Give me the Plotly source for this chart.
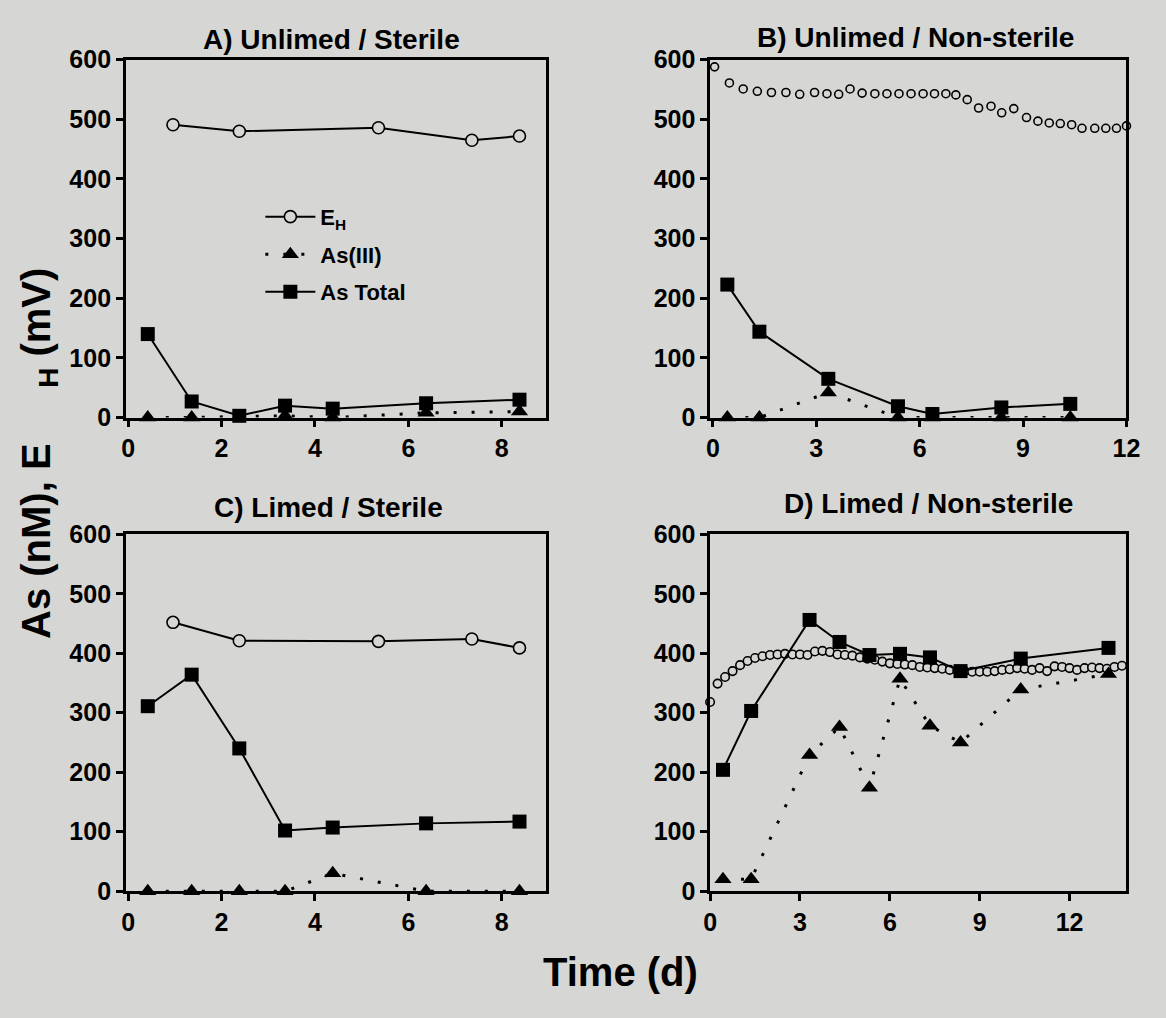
import plotly.graph_objects as go

BG = "#d6d6d4"
FONT = "Liberation Sans, Arial, Helvetica, sans-serif"

# ---------------- data ----------------
# Panel A) Unlimed / Sterile
a_t = [0.42, 1.36, 2.38, 3.36, 4.38, 6.38, 8.38]
a_eh_t = [0.96, 2.38, 5.36, 7.36, 8.38]
a_eh = [491, 480, 486, 465, 472]
a_as3 = [0, 0, 2, 3, 0, 8, 10]
a_tot = [140, 27, 3, 20, 15, 24, 30]

# Panel B) Unlimed / Non-sterile
b_t = [0.42, 1.35, 3.35, 5.37, 6.37, 8.37, 10.37]
b_as3 = [0, 0, 42, 0, 0, 0, 0]
b_tot = [223, 144, 65, 19, 6, 17, 23]
b_eh_t = [0.05, 0.48, 0.88, 1.29, 1.70, 2.12, 2.52, 2.95, 3.31, 3.65, 3.98,
          4.33, 4.70, 5.05, 5.40, 5.75, 6.10, 6.43, 6.76, 7.05, 7.38, 7.71,
          8.07, 8.38, 8.73, 9.10, 9.43, 9.76, 10.08, 10.41, 10.71, 11.08,
          11.40, 11.71, 12.00]
b_eh = [588, 561, 551, 547, 545, 545, 542, 545, 543, 542, 551,
        544, 543, 543, 543, 543, 543, 543, 543, 541, 533, 519,
        522, 511, 518, 503, 497, 494, 493, 491, 485, 485,
        485, 485, 489]

# Panel C) Limed / Sterile
c_t = [0.42, 1.36, 2.38, 3.36, 4.38, 6.38, 8.38]
c_eh_t = [0.96, 2.38, 5.36, 7.36, 8.38]
c_eh = [452, 421, 420, 424, 409]
c_as3 = [0, 0, 0, 0, 30, 0, 0]
c_tot = [311, 364, 240, 102, 107, 114, 117]

# Panel D) Limed / Non-sterile
d_t = [0.43, 1.37, 3.32, 4.32, 5.32, 6.34, 7.34, 8.36, 10.37, 13.30]
d_as3 = [20, 20, 229, 276, 174, 357, 278, 250, 339, 365]
d_tot = [204, 303, 456, 419, 397, 399, 393, 370, 391, 409]
d_eh_t = [0.00, 0.25, 0.50, 0.75, 1.00, 1.25, 1.50, 1.75, 2.00, 2.25, 2.50,
          2.75, 3.00, 3.25, 3.50, 3.75, 4.00, 4.25, 4.50, 4.75, 5.00, 5.25,
          5.50, 5.75, 6.00, 6.25, 6.50, 6.75, 7.00, 7.25, 7.50, 7.75, 8.00,
          8.25, 8.50, 8.75, 9.00, 9.25, 9.50, 9.75, 10.00, 10.25, 10.50,
          10.75, 11.00, 11.25, 11.50, 11.75, 12.00, 12.25, 12.50, 12.75,
          13.00, 13.25, 13.50, 13.75]
d_eh = [318, 349, 360, 370, 380, 387, 392, 395, 397, 398, 399,
        398, 398, 397, 403, 404, 402, 398, 397, 396, 393, 391,
        389, 386, 383, 382, 381, 380, 377, 376, 375, 374, 372,
        371, 370, 369, 369, 369, 370, 372, 373, 375, 374,
        372, 375, 370, 378, 377, 375, 372, 375, 376,
        375, 374, 377, 379]

titles = ["A) Unlimed / Sterile", "B) Unlimed / Non-sterile",
          "C) Limed / Sterile", "D) Limed / Non-sterile"]
x_ticks_short = [0, 2, 4, 6, 8]
x_ticks_long = [0, 3, 6, 9, 12]
y_ticks = [0, 100, 200, 300, 400, 500, 600]

# ---------------- figure ----------------
W, H = 1166, 1018
fig = go.Figure()

panels = [
    dict(xa="x", ya="y", t=a_t, eh_t=a_eh_t, eh=a_eh, as3=a_as3, tot=a_tot,
         eh_mode="lines+markers", eh_size=12, legend=True),
    dict(xa="x2", ya="y2", t=b_t, eh_t=b_eh_t, eh=b_eh, as3=b_as3, tot=b_tot,
         eh_mode="markers", eh_size=8, legend=False),
    dict(xa="x3", ya="y3", t=c_t, eh_t=c_eh_t, eh=c_eh, as3=c_as3, tot=c_tot,
         eh_mode="lines+markers", eh_size=12, legend=False),
    dict(xa="x4", ya="y4", t=d_t, eh_t=d_eh_t, eh=d_eh, as3=d_as3, tot=d_tot,
         eh_mode="markers", eh_size=8.5, legend=False),
]

for p in panels:
    fig.add_trace(go.Scatter(
        x=p["eh_t"], y=p["eh"], mode=p["eh_mode"], name="E<sub>H</sub>",
        legendgroup="eh", xaxis=p["xa"], yaxis=p["ya"],
        showlegend=p["legend"], cliponaxis=False,
        line=dict(color="black", width=2),
        marker=dict(symbol="circle", size=p["eh_size"], color=BG,
                    line=dict(color="black", width=1.6))))
    fig.add_trace(go.Scatter(
        x=p["t"], y=p["as3"], mode="lines+markers", name="As(III)",
        legendgroup="as3", xaxis=p["xa"], yaxis=p["ya"],
        showlegend=p["legend"], cliponaxis=False,
        line=dict(color="black", width=3, dash="3px,15px"),
        marker=dict(symbol="triangle-up", size=15, color="black")))
    fig.add_trace(go.Scatter(
        x=p["t"], y=p["tot"], mode="lines+markers", name="As Total",
        legendgroup="tot", xaxis=p["xa"], yaxis=p["ya"],
        showlegend=p["legend"], cliponaxis=False,
        line=dict(color="black", width=2),
        marker=dict(symbol="square", size=14, color="black")))

def fx(px):
    return px / W

def fy(py):
    return 1 - py / H

axis_common = dict(
    showline=True, linecolor="black", linewidth=2.5, mirror=True,
    ticks="outside", ticklen=7, tickwidth=2.5, tickcolor="black",
    showgrid=False, zeroline=False,
    tickfont=dict(family=FONT, size=25, color="black", weight="bold"),
)

left_dom = [fx(121), fx(549)]
right_dom = [fx(716), fx(1140)]
top_dom = [fy(415), fy(47)]
bot_dom = [fy(902), fy(535)]

fig.update_layout(
    width=W, height=H,
    margin=dict(l=0, r=0, t=0, b=0),
    paper_bgcolor=BG, plot_bgcolor=BG,
    font=dict(family=FONT, color="black"),
    xaxis=dict(domain=left_dom, anchor="y", range=[-0.05, 8.95],
               tickvals=x_ticks_short, **axis_common),
    yaxis=dict(domain=top_dom, anchor="x", range=[0, 600],
               tickvals=y_ticks, **axis_common),
    xaxis2=dict(domain=right_dom, anchor="y2", range=[-0.08, 12.0],
                tickvals=x_ticks_long, **axis_common),
    yaxis2=dict(domain=top_dom, anchor="x2", range=[0, 600],
                tickvals=y_ticks, **axis_common),
    xaxis3=dict(domain=left_dom, anchor="y3", range=[-0.05, 8.95],
                tickvals=x_ticks_short, **axis_common),
    yaxis3=dict(domain=bot_dom, anchor="x3", range=[0, 600],
                tickvals=y_ticks, **axis_common),
    xaxis4=dict(domain=right_dom, anchor="y4", range=[0, 13.9],
                tickvals=x_ticks_long, **axis_common),
    yaxis4=dict(domain=bot_dom, anchor="x4", range=[0, 600],
                tickvals=y_ticks, **axis_common),
    legend=dict(x=fx(258), y=fy(187), xanchor="left", yanchor="top",
                bgcolor="rgba(0,0,0,0)", borderwidth=0,
                traceorder="grouped", tracegroupgap=6, itemwidth=50,
                font=dict(family=FONT, size=22, color="black", weight="bold")),
    showlegend=True,
)

title_pos = [(330, 26), (925, 24), (327, 507), (938, 503)]
for txt, (px, py) in zip(titles, title_pos):
    fig.add_annotation(text=txt, x=fx(px), y=fy(py), xref="paper", yref="paper",
                       showarrow=False, xanchor="center", yanchor="middle",
                       font=dict(family=FONT, size=28, color="black", weight="bold"))

fig.add_annotation(text="Time (d)", x=fx(625), y=fy(985), xref="paper", yref="paper",
                   showarrow=False, xanchor="center", yanchor="middle",
                   font=dict(family=FONT, size=40, color="black", weight="bold"))
fig.add_annotation(text="As (nM), E\u00a0\u00a0\u00a0\u00a0\u00a0<sub>H</sub> (mV)",
                   x=fx(32), y=fy(452), xref="paper", yref="paper",
                   showarrow=False, xanchor="center", yanchor="middle", textangle=-90,
                   font=dict(family=FONT, size=40, color="black", weight="bold"))

fig.write_html("out.html")
